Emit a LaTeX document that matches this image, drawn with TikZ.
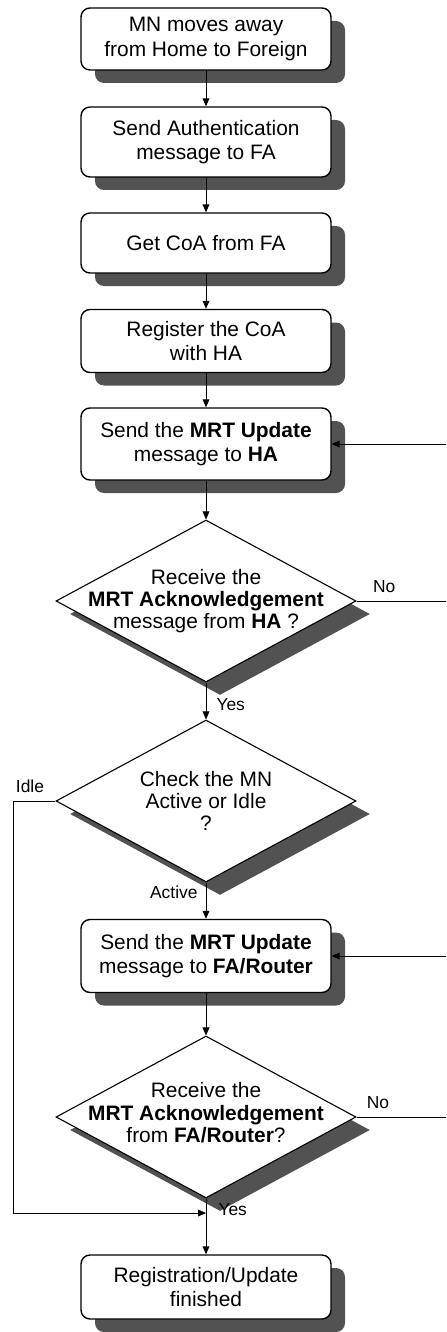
\documentclass[tikz,border=0pt]{standalone}
\usepackage{fontspec}
\setmainfont{Liberation Sans}
\usetikzlibrary{shapes.geometric,shadows,arrows.meta}
\begin{document}
\begin{tikzpicture}[x=0.5pt,y=-0.5pt,
  font=\fontsize{10.45}{12.2}\selectfont,
  boxshadow/.style={drop shadow={shadow xshift=7pt,shadow yshift=-6.5pt,fill=black!68,opacity=1}},
  procbox/.style={boxshadow, draw, line width=0.7pt, fill=white, rounded corners=4.5pt,
                  minimum width=125pt, align=center, inner sep=0pt},
  decision/.style={boxshadow, draw, line width=0.55pt, fill=white, diamond, inner sep=0pt,
                   minimum width=150pt, minimum height=81pt},
  dtext/.style={align=center, inner sep=0pt, font=\fontsize{10.45}{11.2}\selectfont},
  flow/.style={line width=0.5pt, -{Triangle[length=4pt,width=3.4pt]}},
  link/.style={line width=0.5pt},
  tag/.style={font=\fontsize{8.7}{10}\selectfont, inner sep=0pt}
]
\useasboundingbox (0,0) rectangle (446,1332);

% process steps and decisions, top to bottom
\node[procbox, minimum height=31pt]   (b1) at (206,39)  {MN moves away\\from Home to Foreign};
\node[procbox, minimum height=35pt]   (b2) at (206,142) {Send Authentication\\message to FA};
\node[procbox, minimum height=30pt]   (b3) at (206,243) {Get CoA from FA};
\node[procbox, minimum height=31.5pt] (b4) at (206,341) {Register the CoA\\with HA};
\node[procbox, minimum height=36pt]   (b5) at (206,444) {Send the \textbf{MRT Update}\\message to \textbf{HA}};
\node[decision] (d1) at (206,601) {};
\node[dtext] (t1) at (d1) {Receive the\\\textbf{MRT Acknowledgement}\\message from \textbf{HA} ?};
\node[decision] (d2) at (206,801) {};
\node[dtext] (t2) at (d2) {Check the MN\\Active or Idle\\?};
\node[procbox, minimum height=36.5pt] (b6) at (206,956) {Send the \textbf{MRT Update}\\message to \textbf{FA/Router}};
\node[decision] (d3) at (206,1117) {};
\node[dtext] (t3) at ([yshift=2pt]d3.center) {Receive the\\\textbf{MRT Acknowledgement}\\from \textbf{FA/Router}?};
\node[procbox, minimum height=32pt]   (b7) at (206,1287) {Registration/Update\\finished};

% loose ends running off the right margin, and the Idle bypass
\coordinate (r1) at (446,601);
\coordinate (r2) at (446,444);
\coordinate (r3) at (446,956);
\coordinate (r4) at (446,1117);
\coordinate (idleTop) at (13,801);
\coordinate (idleBot) at (13,1213);
\coordinate (merge)   at (206,1213);

% main flow
\draw[flow] (b1) -- (b2);
\draw[flow] (b2) -- (b3);
\draw[flow] (b3) -- (b4);
\draw[flow] (b4) -- (b5);
\draw[flow] (b5) -- (d1);
\draw[flow] (d1) -- node[tag, pos=0.6, right=5pt] (lyes1) {Yes} (d2);
\draw[flow] (d2) -- node[tag, pos=0.28, left=4pt] (lact) {Active} (b6);
\draw[flow] (b6) -- (d3);
\draw[flow] (d3) -- node[tag, pos=0.2, right=6pt] (lyes2) {Yes} (b7);

% retry branches
\draw[link] (d1.east) -- node[tag, pos=0.31, above=4pt] (lno1) {No} (r1);
\draw[flow] (r2) -- (b5);
\draw[flow] (r3) -- (b6);
\draw[link] (d3.east) -- node[tag, pos=0.24, above=4pt] (lno2) {No} (r4);

% idle bypass
\draw[flow] (d2.west) -- node[tag, pos=0.6, above=4pt] (lidle) {Idle} (idleTop) -- (idleBot) -- (merge);
\end{tikzpicture}
\end{document}
